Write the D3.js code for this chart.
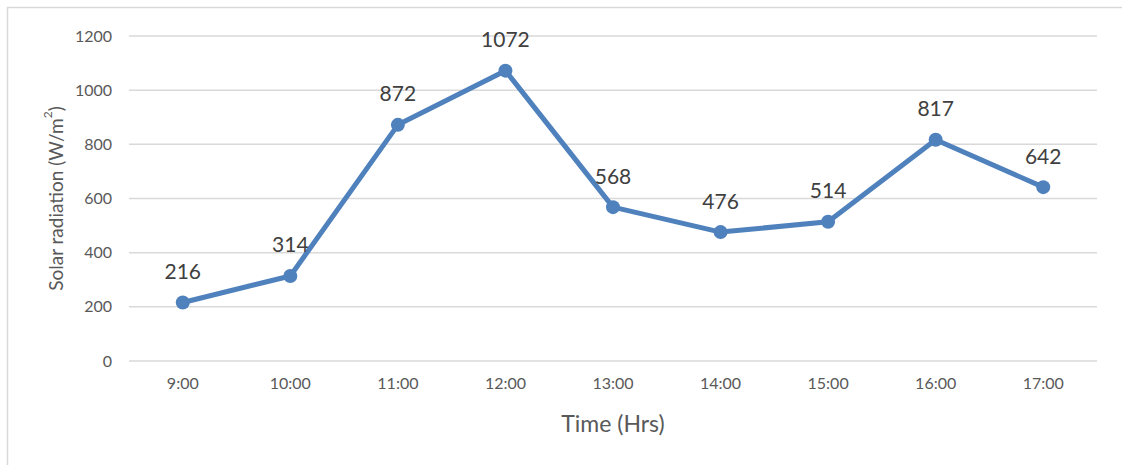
<!DOCTYPE html>
<html>
<head>
<meta charset="utf-8">
<script src="https://cdn.jsdelivr.net/npm/d3@7"></script>
<style>
  body { margin: 0; background: #fff; }
  text { font-family: Lato, "Open Sans", sans-serif; }
</style>
</head>
<body>
<script>
// hourly solar radiation readings
var hours = ["9:00", "10:00", "11:00", "12:00", "13:00", "14:00", "15:00", "16:00", "17:00"];
var radiation = [216, 314, 872, 1072, 568, 476, 514, 817, 642];
var yTicks = [0, 200, 400, 600, 800, 1000, 1200];

var width = 1122, height = 465;
var margin = {top: 36, right: 25, bottom: 104, left: 129};

var svg = d3.select("body")
        .append("svg")
        .attr("width", width)
        .attr("height", height);

// outer frame (only left/top show inside the window)
svg.append("rect")
    .attr("x", 7.5).attr("y", 7.5)
    .attr("width", width + 20).attr("height", height + 20)
    .attr("fill", "none")
    .attr("stroke", "#d9d9d9")
    .attr("stroke-width", 1.5);

var x = d3.scaleBand()
        .domain(hours)
        .range([margin.left, width - margin.right]);

var y = d3.scaleLinear()
        .domain([0, 1200])
        .range([height - margin.bottom, margin.top]);

// gridlines
svg.append("g")
    .selectAll("line")
    .data(yTicks)
    .enter()
    .append("line")
    .attr("x1", margin.left)
    .attr("x2", width - margin.right)
    .attr("y1", function(d) { return y(d); })
    .attr("y2", function(d) { return y(d); })
    .attr("stroke", "#d9d9d9")
    .attr("stroke-width", 1.5);

// y axis labels
var yAxis = svg.append("g")
    .attr("transform", "translate(" + margin.left + ",0)")
    .call(d3.axisLeft(y).tickValues(yTicks).tickFormat(d3.format("d")).tickSize(0).tickPadding(17));
yAxis.select(".domain").remove();
yAxis.selectAll("text")
    .attr("fill", "#595959")
    .style("font-size", "16px");

// x axis labels
var xAxis = svg.append("g")
    .attr("transform", "translate(0," + (height - margin.bottom) + ")")
    .call(d3.axisBottom(x).tickSize(0).tickPadding(17));
xAxis.select(".domain").remove();
xAxis.selectAll("text")
    .attr("fill", "#595959")
    .style("font-size", "16px");

// axis titles
svg.append("text")
    .attr("x", x("13:00") + x.bandwidth() / 2)
    .attr("y", 423)
    .attr("text-anchor", "middle")
    .attr("dominant-baseline", "central")
    .attr("fill", "#595959")
    .style("font-size", "23px")
    .text("Time (Hrs)");

var yTitle = svg.append("text")
    .attr("transform", "translate(55," + ((margin.top + height - margin.bottom) / 2) + ") rotate(-90)")
    .attr("text-anchor", "middle")
    .attr("dominant-baseline", "central")
    .attr("fill", "#595959")
    .style("font-size", "19px");
yTitle.append("tspan").text("Solar radiation (W/m");
yTitle.append("tspan").attr("baseline-shift", "super").style("font-size", "12px").text("2");
yTitle.append("tspan").text(")");

var cx = function(d, i) { return x(hours[i]) + x.bandwidth() / 2; };

var line = d3.line()
    .x(function(d, i) { return cx(d, i); })
    .y(function(d) { return y(d); });

svg.append("path")
    .datum(radiation)
    .attr("d", line)
    .attr("fill", "none")
    .attr("stroke", "#4f81bd")
    .attr("stroke-width", 5)
    .attr("stroke-linejoin", "round");

svg.append("g")
    .selectAll("circle")
    .data(radiation)
    .enter()
    .append("circle")
    .attr("cx", cx)
    .attr("cy", function(d) { return y(d); })
    .attr("r", 7)
    .attr("fill", "#4f81bd");

svg.append("g")
    .selectAll("text")
    .data(radiation)
    .enter()
    .append("text")
    .attr("x", cx)
    .attr("y", function(d) { return y(d) - 32; })
    .attr("text-anchor", "middle")
    .attr("dominant-baseline", "central")
    .attr("fill", "#404040")
    .style("font-size", "21px")
    .text(function(d) { return d; });
</script>
</body>
</html>
